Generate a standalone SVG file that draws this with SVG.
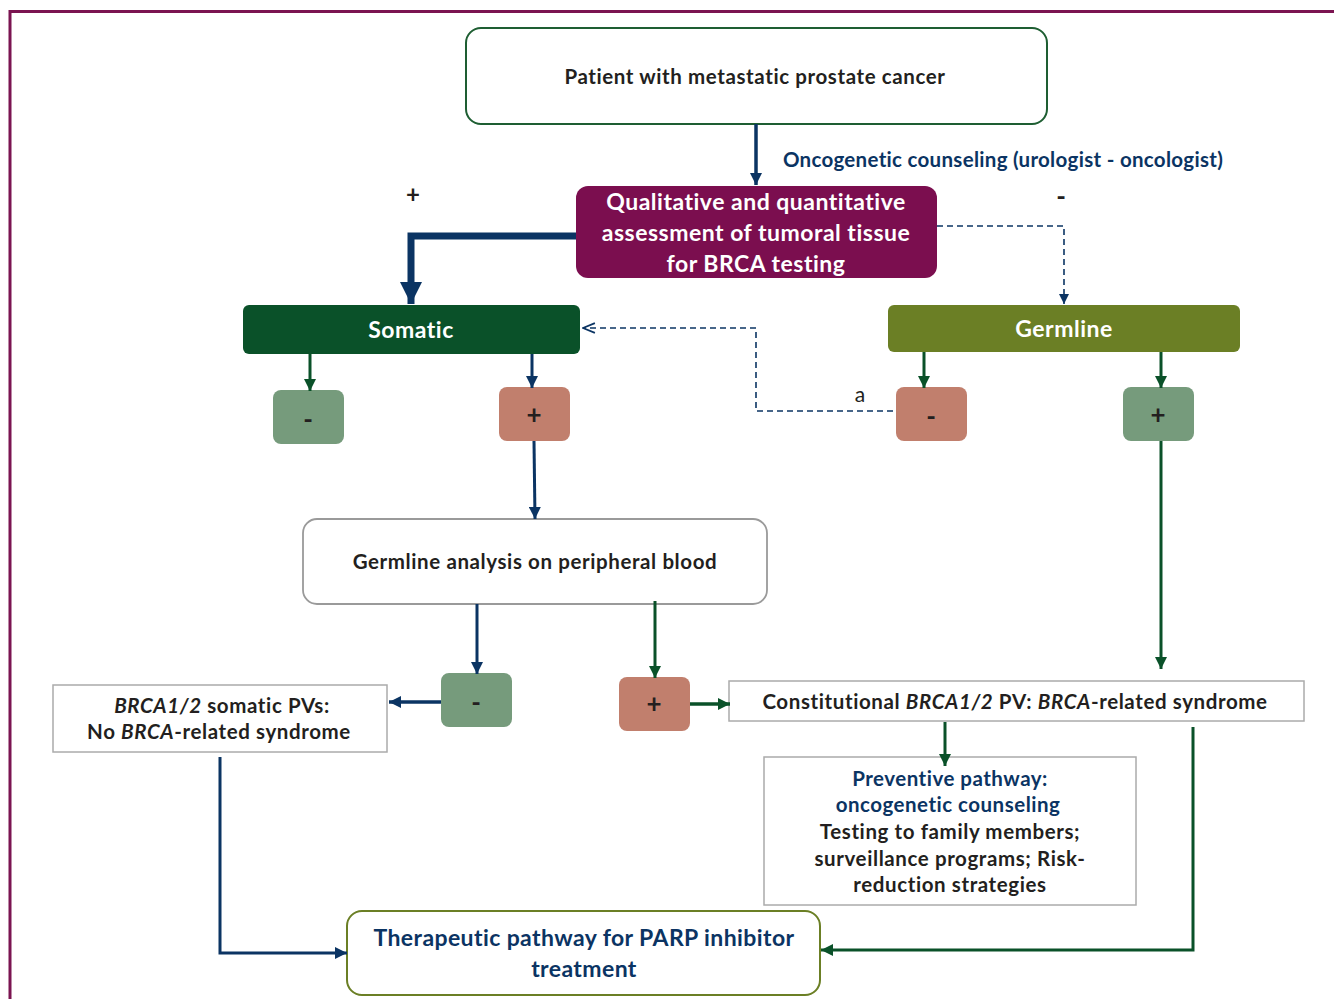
<svg xmlns="http://www.w3.org/2000/svg" width="1334" height="999" viewBox="0 0 1334 999">
<defs>
<style>
text{font-family:Lato,"Open Sans","Liberation Sans",sans-serif;font-weight:bold;text-anchor:middle}
.dk{fill:#231f20;font-size:20.5px;letter-spacing:0.6px}
.wh{fill:#ffffff;font-size:23px;letter-spacing:0.5px}
.nv{fill:#0b3463}
.sq{fill:#231f20;font-size:26px}
.navy{stroke:#0b3463;fill:none}
.grn{stroke:#0a5129;fill:none}
.dash{stroke:#0b3463;fill:none;stroke-width:1.6;stroke-dasharray:6 4}
</style>
<marker id="an" viewBox="0 0 10 10" refX="10" refY="5" markerWidth="12" markerHeight="12" orient="auto" markerUnits="userSpaceOnUse"><path d="M0,0 L10,5 L0,10 z" fill="#0b3463"/></marker>
<marker id="ag" viewBox="0 0 10 10" refX="10" refY="5" markerWidth="12" markerHeight="12" orient="auto" markerUnits="userSpaceOnUse"><path d="M0,0 L10,5 L0,10 z" fill="#0a5129"/></marker>
<marker id="at" viewBox="0 0 10 10" refX="10" refY="5" markerWidth="22" markerHeight="22" orient="auto" markerUnits="userSpaceOnUse"><path d="M0,0 L10,5 L0,10 z" fill="#0b3463"/></marker>
<marker id="ad" viewBox="0 0 10 10" refX="10" refY="5" markerWidth="10" markerHeight="10" orient="auto" markerUnits="userSpaceOnUse"><path d="M0,0 L10,5 L0,10 z" fill="#0b3463"/></marker>
<marker id="ao" viewBox="0 0 10 10" refX="9.5" refY="5" markerWidth="14" markerHeight="14" orient="auto" markerUnits="userSpaceOnUse"><path d="M1,1.5 L9.5,5 L1,8.5" fill="none" stroke="#0b3463" stroke-width="1.2"/></marker>
</defs>
<rect width="1334" height="999" fill="#ffffff"/>
<g id="frame" fill="none" stroke="#7b1451" stroke-width="3">
<path d="M10,999 V11.5 H1334"/>
</g>

<g id="patient">
<rect x="466" y="28" width="581" height="96" rx="15" fill="#fff" stroke="#1e5e32" stroke-width="2"/>
<text class="dk" x="755" y="84">Patient with metastatic prostate cancer</text>
</g>
<g id="assessment">
<rect x="576" y="186" width="361" height="92" rx="12" fill="#7b0e4f"/>
<text class="wh" x="756" y="210">Qualitative and quantitative</text>
<text class="wh" x="756" y="241">assessment of tumoral tissue</text>
<text class="wh" x="756" y="272">for BRCA testing</text>
</g>
<g id="somatic">
<rect x="243" y="305" width="337" height="49" rx="6" fill="#0a5129"/>
<text class="wh" x="411" y="338">Somatic</text>
</g>
<g id="germline">
<rect x="888" y="305" width="352" height="47" rx="6" fill="#6b7f25"/>
<text class="wh" x="1064" y="337">Germline</text>
</g>
<g id="somatic-neg">
<rect x="273" y="390" width="71" height="54" rx="8" fill="#769b7c"/>
<text class="sq" x="308" y="429">-</text>
</g>
<g id="somatic-pos">
<rect x="499" y="387" width="71" height="54" rx="8" fill="#c17f6d"/>
<text class="sq" x="534" y="424">+</text>
</g>
<g id="germline-neg">
<rect x="896" y="387" width="71" height="54" rx="8" fill="#c17f6d"/>
<text class="sq" x="931" y="426">-</text>
</g>
<g id="germline-pos">
<rect x="1123" y="387" width="71" height="54" rx="8" fill="#769b7c"/>
<text class="sq" x="1158" y="424">+</text>
</g>
<g id="blood">
<rect x="303" y="519" width="464" height="85" rx="14" fill="#fff" stroke="#9a9a9a" stroke-width="1.8"/>
<text class="dk" x="535" y="569">Germline analysis on peripheral blood</text>
</g>
<g id="blood-neg">
<rect x="441" y="673" width="71" height="54" rx="8" fill="#769b7c"/>
<text class="sq" x="476" y="712">-</text>
</g>
<g id="blood-pos">
<rect x="619" y="677" width="71" height="54" rx="8" fill="#c17f6d"/>
<text class="sq" x="654" y="713">+</text>
</g>
<g id="somatic-pv">
<rect x="53" y="685" width="334" height="67" fill="#fff" stroke="#ababab" stroke-width="1.5"/>
<text class="dk" x="222" y="713"><tspan font-style="italic">BRCA1/2</tspan> somatic PVs:</text>
<text class="dk" x="219" y="739">No <tspan font-style="italic">BRCA</tspan>-related syndrome</text>
</g>
<g id="constitutional">
<rect x="729" y="681" width="575" height="40" fill="#fff" stroke="#ababab" stroke-width="1.5"/>
<text class="dk" x="1015" y="709">Constitutional <tspan font-style="italic">BRCA1/2</tspan> PV: <tspan font-style="italic">BRCA</tspan>-related syndrome</text>
</g>
<g id="preventive">
<rect x="764" y="757" width="372" height="148" fill="#fff" stroke="#ababab" stroke-width="1.5"/>
<text class="nv" x="950" y="786" style="font-size:20.5px;letter-spacing:0.5px">Preventive pathway:</text>
<text class="nv" x="948" y="812" style="font-size:20.5px;letter-spacing:0.5px">oncogenetic  counseling</text>
<text class="dk" x="950" y="839">Testing to family members;</text>
<text class="dk" x="950" y="866">surveillance programs; Risk-</text>
<text class="dk" x="950" y="892">reduction strategies</text>
</g>
<g id="therapeutic">
<rect x="347" y="911" width="473" height="84" rx="15" fill="#fff" stroke="#6b7f25" stroke-width="2"/>
<text class="nv" x="584" y="946" style="font-size:23px;letter-spacing:0.4px">Therapeutic pathway for PARP inhibitor</text>
<text class="nv" x="584" y="977" style="font-size:23px;letter-spacing:0.4px">treatment</text>
</g>

<g id="connectors">
<line class="navy" x1="756" y1="124" x2="756" y2="185" stroke-width="3.5" marker-end="url(#an)"/>
<path class="navy" d="M576,236 H411 V304" stroke-width="7" marker-end="url(#at)"/>
<path class="dash" d="M937,226 H1064 V304" marker-end="url(#ad)"/>
<line class="grn" x1="310" y1="354" x2="310" y2="391" stroke-width="3" marker-end="url(#ag)"/>
<line class="navy" x1="532" y1="354" x2="532" y2="388" stroke-width="3" marker-end="url(#an)"/>
<line class="navy" x1="534" y1="441" x2="535" y2="519" stroke-width="3" marker-end="url(#an)"/>
<line class="grn" x1="924" y1="352" x2="924" y2="388" stroke-width="3" marker-end="url(#ag)"/>
<line class="grn" x1="1161" y1="352" x2="1161" y2="388" stroke-width="3" marker-end="url(#ag)"/>
<line class="grn" x1="1161" y1="441" x2="1161" y2="669" stroke-width="3" marker-end="url(#ag)"/>
<path class="dash" d="M893,411 H756 V328 H583" marker-end="url(#ao)"/>
<line class="navy" x1="477" y1="604" x2="477" y2="674" stroke-width="3" marker-end="url(#an)"/>
<line class="grn" x1="655" y1="601" x2="655" y2="678" stroke-width="3" marker-end="url(#ag)"/>
<line class="navy" x1="441" y1="702" x2="389" y2="702" stroke-width="3.5" marker-end="url(#an)"/>
<line class="grn" x1="690" y1="704" x2="730" y2="704" stroke-width="3.5" marker-end="url(#ag)"/>
<line class="grn" x1="945" y1="722" x2="945" y2="766" stroke-width="3" marker-end="url(#ag)"/>
<path class="grn" d="M1193,727 V950 H821" stroke-width="3" marker-end="url(#ag)"/>
<path class="navy" d="M220,757 V953 H347" stroke-width="3" marker-end="url(#an)"/>
</g>

<g id="labels">
<text class="nv" x="1003" y="167" style="font-size:20.5px;letter-spacing:0.3px">Oncogenetic counseling (urologist - oncologist)</text>
<text x="413" y="203" style="font-size:24px;fill:#231f20">+</text>
<text x="1061" y="206" style="font-size:26px;fill:#231f20">-</text>
<text x="860" y="402" style="font-size:21px;font-weight:normal;fill:#231f20">a</text>
</g>
</svg>
